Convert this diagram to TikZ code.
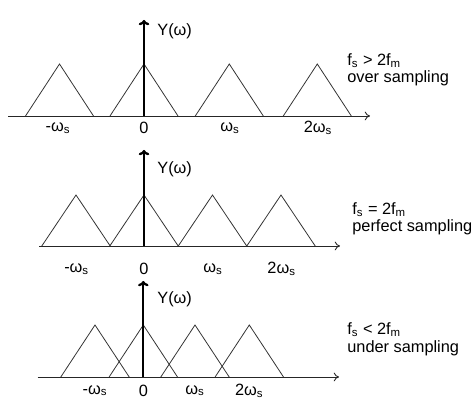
\documentclass[tikz,border=0pt]{standalone}
\usepackage{fontspec}
\setmainfont{Liberation Sans}
\usetikzlibrary{arrows.meta}
\tikzset{
  haxis/.style={black!85, line width=0.5pt, -{To[length=3pt,width=5pt]}},
  vaxis/.style={black, line width=1.3pt, -{To[length=3pt,width=6pt]}},
  spec/.style={black!80, line width=0.45pt},
  lbl/.style={inner sep=0pt, font=\fontsize{9.3}{10}\selectfont},
  note/.style={lbl, anchor=west, align=left}
}
\begin{document}
\begin{tikzpicture}[x=0.02cm, y=-0.02cm]
	\useasboundingbox (0,0) rectangle (474,404);
	% over sampling
	\coordinate (a1) at (8,116);
	\coordinate (b1) at (370,116);
	\coordinate (o1) at (144,116);
	\coordinate (t1) at (144,20);
	\foreach \p in {59.5,144,229.3,317.3}
		\draw[spec] ({\p-34},116) -- (\p,64) -- ({\p+34},116);
	\draw[haxis] (a1) -- (b1);
	\draw[vaxis] (o1) -- (t1);
	\node[lbl, anchor=west] (y1) at (157,31) {Y(ω)};
	\node[lbl] (m1) at (58,128) {-ω\textsubscript{s}};
	\node[lbl] (z1) at (144,128) {0};
	\node[lbl] (s1) at (230,128) {ω\textsubscript{s}};
	\node[lbl] (d1) at (318,128) {2ω\textsubscript{s}};
	\node[note] (n1) at (347,70) {f\textsubscript{s} > 2f\textsubscript{m}\\over sampling};
	% perfect sampling
	\coordinate (a2) at (39,246);
	\coordinate (b2) at (340,246);
	\coordinate (o2) at (144,246);
	\coordinate (t2) at (144,150);
	\foreach \p in {76,144,212.5,281}
		\draw[spec] ({\p-34.2},246) -- (\p,195) -- ({\p+34.2},246);
	\draw[haxis] (a2) -- (b2);
	\draw[vaxis] (o2) -- (t2);
	\node[lbl, anchor=west] (y2) at (157,169) {Y(ω)};
	\node[lbl] (m2) at (76.7,269) {-ω\textsubscript{s}};
	\node[lbl] (z2) at (144,269) {0};
	\node[lbl] (s2) at (213,269) {ω\textsubscript{s}};
	\node[lbl] (d2) at (281.7,269) {2ω\textsubscript{s}};
	\node[note] (n2) at (352,219) {f\textsubscript{s} = 2f\textsubscript{m}\\perfect sampling};
	% under sampling
	\coordinate (a3) at (37.7,377);
	\coordinate (b3) at (339,377);
	\coordinate (o3) at (143.3,377);
	\coordinate (t3) at (143.3,281);
	\foreach \p in {95,143.3,195,249.3}
		\draw[spec] ({\p-34.2},377) -- (\p,325) -- ({\p+34.2},377);
	\draw[haxis] (a3) -- (b3);
	\draw[vaxis] (o3) -- (t3);
	\node[lbl, anchor=west] (y3) at (157,299) {Y(ω)};
	\node[lbl] (m3) at (95,390.7) {-ω\textsubscript{s}};
	\node[lbl] (z3) at (143.3,390.7) {0};
	\node[lbl] (s3) at (195,390.7) {ω\textsubscript{s}};
	\node[lbl] (d3) at (249.3,390.7) {2ω\textsubscript{s}};
	\node[note] (n3) at (347,339.5) {f\textsubscript{s} < 2f\textsubscript{m}\\under sampling};
\end{tikzpicture}
\end{document}
